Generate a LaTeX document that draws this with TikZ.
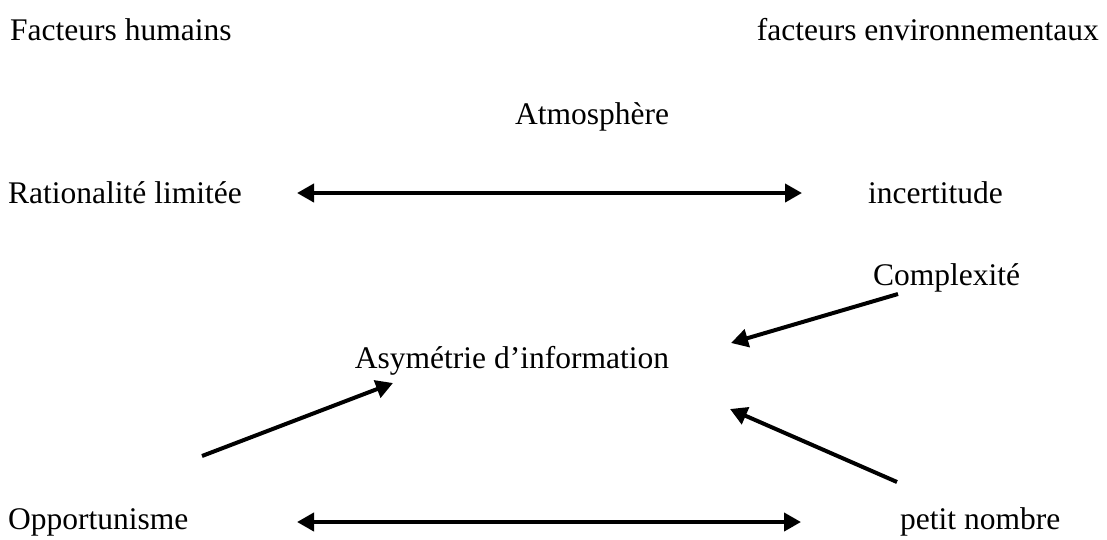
\documentclass[tikz,border=0pt]{standalone}
\usepackage{fontspec}
\setmainfont{Liberation Serif}
\usetikzlibrary{arrows.meta}
\begin{document}
\begin{tikzpicture}[x=1pt,y=-1pt,
  lbl/.style={inner sep=0pt,font=\fontsize{31.5}{36}\selectfont},
  tip/.tip={Triangle[length=17pt,width=18pt]},
  link/.style={line width=4pt,-tip},
  both/.style={line width=4pt,tip-tip}]
\useasboundingbox (0,0) rectangle (1107,539);
% row titles
\node[lbl,anchor=west] (hum) at (10,30) {Facteurs humains};
\node[lbl,anchor=east] (env) at (1099,30) {facteurs environnementaux};
\node[lbl] (atm) at (592,117) {Atmosphère};
% factors
\node[lbl,anchor=west] (rat) at (8,193) {Rationalité limitée};
\node[lbl,anchor=west] (inc) at (868,193) {incertitude};
\node[lbl,anchor=west] (cpx) at (873,278) {Complexité};
\node[lbl] (asy) at (512,361) {Asymétrie d’information};
\node[lbl,anchor=west] (opp) at (8,522) {Opportunisme};
\node[lbl,anchor=west] (pet) at (900,522) {petit nombre};
% connector ends
\coordinate (r1) at (297,193);
\coordinate (r2) at (802,193);
\coordinate (o1) at (297,522);
\coordinate (o2) at (801,522);
\coordinate (c1) at (898,294);
\coordinate (c2) at (731,343);
\coordinate (s1) at (202,456);
\coordinate (s2) at (393,383);
\coordinate (p1) at (897,482);
\coordinate (p2) at (730,409);
\draw[both] (r1) -- (r2);
\draw[both] (o1) -- (o2);
\draw[link] (c1) -- (c2);
\draw[link] (s1) -- (s2);
\draw[link] (p1) -- (p2);
\end{tikzpicture}
\end{document}
